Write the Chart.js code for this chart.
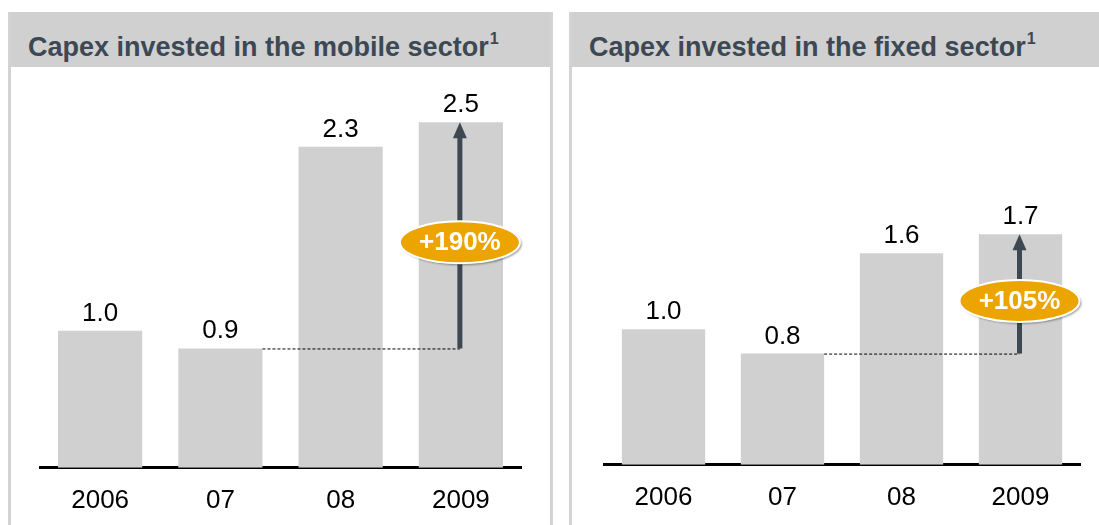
<!DOCTYPE html>
<html>
<head>
<meta charset="utf-8">
<script src="https://cdn.jsdelivr.net/npm/chart.js@4/dist/chart.umd.min.js"></script>
<style>
  html, body { margin: 0; padding: 0; background: #fff; overflow: hidden; }
  body { width: 1099px; height: 525px; position: relative; font-family: "Liberation Sans", Arial, sans-serif; }
  .panel { position: absolute; top: 12px; height: 540px; border-left: 3px solid #d3d3d3; border-right: 3px solid #d3d3d3; background: #fff; }
  .head { height: 55px; background: #d0d0d0; color: #3c4853; font-weight: bold; font-size: 27px; line-height: 58px; padding-left: 17px; white-space: nowrap; }
  .head sup { font-size: 16px; position: relative; top: -2px; margin-left: 1px; }
  .box { position: relative; }
  canvas { display: block; }
</style>
</head>
<body>
<div class="panel" style="left:8px; width:539px;">
  <div class="head">Capex invested in the mobile sector<sup>1</sup></div>
  <div class="box" style="width:539px; height:472px;"><canvas id="mobile"></canvas></div>
</div>
<div class="panel" style="left:569px; width:540px; border-right:none;">
  <div class="head">Capex invested in the fixed sector<sup>1</sup></div>
  <div class="box" style="width:527px; height:472px;"><canvas id="fixed"></canvas></div>
</div>
<script>
const years = ['2006', '07', '08', '2009'];

// mobile sector, indexed to 2006 = 1.0
const mobileValues = [1.0, 0.87, 2.34, 2.52];
const mobileLabels = ['1.0', '0.9', '2.3', '2.5'];
const mobileGrowth = '+190%';

// fixed sector, indexed to 2006 = 1.0
const fixedValues = [1.0, 0.82, 1.56, 1.70];
const fixedLabels = ['1.0', '0.8', '1.6', '1.7'];
const fixedGrowth = '+105%';

const FONT = '"Liberation Sans", Arial, sans-serif';

// labels above bars + dashed line, arrow and orange bubble
const annotate = {
  id: 'annotate',
  afterDatasetsDraw(chart, args, opts) {
    const ctx = chart.ctx;
    const bars = chart.getDatasetMeta(0).data;

    ctx.save();
    ctx.fillStyle = '#000';
    ctx.font = '26px ' + FONT;
    ctx.textAlign = 'center';
    ctx.textBaseline = 'alphabetic';
    bars.forEach((b, i) => {
      ctx.fillText(opts.labels[i], b.x, b.y - 10);
    });

    const from = bars[1];
    const to = bars[3];
    const ax = to.x - 1;

    // dashed reference line from 07 bar
    ctx.strokeStyle = '#000';
    ctx.lineWidth = 1;
    ctx.setLineDash([3, 2]);
    ctx.beginPath();
    ctx.moveTo(from.x + from.width / 2, from.y + 0.5);
    ctx.lineTo(ax, from.y + 0.5);
    ctx.stroke();
    ctx.setLineDash([]);

    // arrow
    ctx.strokeStyle = '#3d4852';
    ctx.fillStyle = '#3d4852';
    ctx.lineWidth = 5;
    ctx.beginPath();
    ctx.moveTo(ax, from.y);
    ctx.lineTo(ax, to.y + 14);
    ctx.stroke();
    ctx.beginPath();
    ctx.moveTo(ax, to.y);
    ctx.lineTo(ax - 7, to.y + 16);
    ctx.lineTo(ax + 7, to.y + 16);
    ctx.closePath();
    ctx.fill();

    // bubble
    const cy = (from.y + to.y) / 2 + 7;
    ctx.shadowColor = 'rgba(0,0,0,0.35)';
    ctx.shadowOffsetX = 2;
    ctx.shadowOffsetY = 2;
    ctx.shadowBlur = 2;
    ctx.fillStyle = '#eca400';
    ctx.beginPath();
    ctx.ellipse(ax, cy, 60, 21, 0, 0, Math.PI * 2);
    ctx.fill();
    ctx.shadowColor = 'transparent';
    ctx.strokeStyle = '#fff';
    ctx.lineWidth = 2;
    ctx.stroke();

    ctx.fillStyle = '#fff';
    ctx.font = 'bold 26px ' + FONT;
    ctx.textBaseline = 'middle';
    ctx.fillText(opts.growth, ax, cy + 1);
    ctx.restore();
  }
};

function makeChart(id, values, labels, growth, yMax, pad) {
  const ctx = document.getElementById(id).getContext('2d');
  return new Chart(ctx, {
    type: 'bar',
    data: {
      labels: years,
      datasets: [{
        data: values,
        backgroundColor: '#d0d0d0',
        borderWidth: 0,
        barPercentage: 0.7,
        categoryPercentage: 1.0,
      }],
    },
    options: {
      responsive: true,
      maintainAspectRatio: false,
      animation: false,
      layout: { padding: pad },
      plugins: {
        legend: { display: false },
        title: { display: false },
        tooltip: { enabled: false },
        annotate: { labels: labels, growth: growth },
      },
      scales: {
        x: {
          grid: { display: false, drawTicks: false },
          border: { display: true, color: '#000', width: 3 },
          ticks: { color: '#000', padding: 17, font: { size: 26, family: FONT } },
        },
        y: {
          display: false,
          min: 0,
          max: yMax,
        },
      },
    },
    plugins: [annotate],
  });
}

makeChart('mobile', mobileValues, mobileLabels, mobileGrowth, 2.82, { left: 29, right: 29, top: 14, bottom: 6 });
makeChart('fixed', fixedValues, fixedLabels, fixedGrowth, 2.83, { left: 32, right: 19, top: 14, bottom: 9 });
</script>
</body>
</html>
